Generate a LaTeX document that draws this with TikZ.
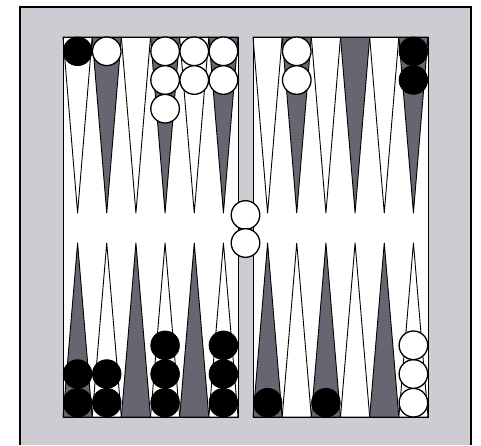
\documentclass[tikz,border=0pt]{standalone}
\definecolor{framegray}{RGB}{206,204,210}
\definecolor{pointgray}{RGB}{102,102,112}
\begin{document}
\begin{tikzpicture}[x=1pt,y=-1pt,
  frameline/.style={draw=black, line width=1.8pt},
  boardbox/.style={fill=white, draw=black, line width=1pt},
  darkpt/.style={fill=pointgray, draw=black, line width=0.9pt, line join=round},
  lightpt/.style={fill=white, draw=black, line width=0.9pt, line join=round},
  bk/.style={circle, minimum size=28.6pt, inner sep=0pt, fill=black, draw=black, line width=0.8pt},
  wh/.style={circle, minimum size=28.6pt, inner sep=0pt, fill=white, draw=black, line width=1.3pt}]
\useasboundingbox (0,0) rectangle (481,445);
% frame
\fill[framegray] (20,7) rectangle (471,445);
\draw[frameline] (20,445) -- (20,7) -- (471,7) -- (471,445);
% board halves
\draw[boardbox] (63,37) rectangle (238,417);
\draw[boardbox] (253,37) rectangle (428,417);
% points
\foreach \i/\s in {0/lightpt,1/darkpt,2/lightpt,3/darkpt,4/lightpt,5/darkpt}{
  \draw[\s] ({63+\i*29.1667},37) -- ({63+(\i+1)*29.1667},37) -- ({63+(\i+0.5)*29.1667},213) -- cycle;
  \draw[\s] ({253+\i*29.1667},37) -- ({253+(\i+1)*29.1667},37) -- ({253+(\i+0.5)*29.1667},213) -- cycle;
}
\foreach \i/\s in {0/darkpt,1/lightpt,2/darkpt,3/lightpt,4/darkpt,5/lightpt}{
  \draw[\s] ({63+\i*29.1667},417) -- ({63+(\i+1)*29.1667},417) -- ({63+(\i+0.5)*29.1667},243) -- cycle;
  \draw[\s] ({253+\i*29.1667},417) -- ({253+(\i+1)*29.1667},417) -- ({253+(\i+0.5)*29.1667},243) -- cycle;
}
% board outlines on top
\draw[black, line width=1pt] (63,37) rectangle (238,417);
\draw[black, line width=1pt] (253,37) rectangle (428,417);
% top-left checkers
\node[bk] (tla) at (77.6,51.3) {};
\node[wh] (tlb) at (106.75,51.3) {};
\node[wh] (tld1) at (165.1,51.3) {};
\node[wh] (tld2) at (165.1,80) {};
\node[wh] (tld3) at (165.1,108.7) {};
\node[wh] (tle1) at (194.25,51.3) {};
\node[wh] (tle2) at (194.25,80) {};
\node[wh] (tlf1) at (223.4,51.3) {};
\node[wh] (tlf2) at (223.4,80) {};
% top-right checkers
\node[wh] (trb1) at (296.75,51.3) {};
\node[wh] (trb2) at (296.75,80) {};
\node[bk] (trf1) at (413.4,51.3) {};
\node[bk] (trf2) at (413.4,80) {};
% bottom-left checkers
\node[bk] (bla1) at (77.6,402.7) {};
\node[bk] (bla2) at (77.6,374) {};
\node[bk] (blb1) at (106.75,402.7) {};
\node[bk] (blb2) at (106.75,374) {};
\node[bk] (bld1) at (165.1,402.7) {};
\node[bk] (bld2) at (165.1,374) {};
\node[bk] (bld3) at (165.1,345.3) {};
\node[bk] (blf1) at (223.4,402.7) {};
\node[bk] (blf2) at (223.4,374) {};
\node[bk] (blf3) at (223.4,345.3) {};
% bottom-right checkers
\node[bk] (bra) at (267.6,402.7) {};
\node[bk] (brc) at (325.9,402.7) {};
\node[wh] (brf1) at (413.4,402.7) {};
\node[wh] (brf2) at (413.4,374) {};
\node[wh] (brf3) at (413.4,345.3) {};
% bar checkers
\node[wh] (bar1) at (245.5,215) {};
\node[wh] (bar2) at (245.5,243) {};
\end{tikzpicture}
\end{document}
